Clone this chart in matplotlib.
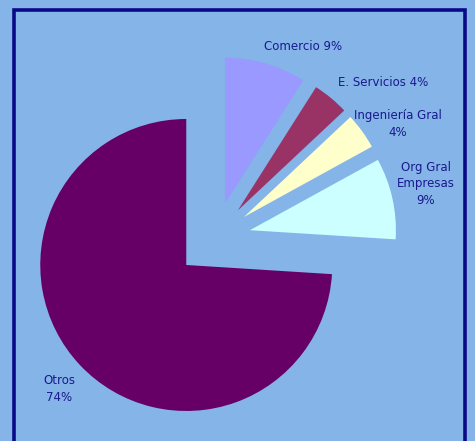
import matplotlib.pyplot as plt
from matplotlib.patches import Rectangle

# Dados do gráfico
categorias = ["Otros", "Org Gral\nEmpresas", "Ingeniería Gral", "E. Servicios", "Comercio"]
porcentagens = [74, 9, 4, 4, 9]
cores = ["#660066", "#CCFFFF", "#FFFFCC", "#993366", "#9999FF"]
explode = [0.27, 0.245, 0.245, 0.245, 0.245]

# Rótulos: texto e posição (pixels da imagem)
rotulos = [
    f"{categorias[0]}\n{porcentagens[0]}%",
    f"{categorias[1]}\n{porcentagens[1]}%",
    f"{categorias[2]}\n{porcentagens[2]}%",
    f"{categorias[3]} {porcentagens[3]}%",
    f"{categorias[4]} {porcentagens[4]}%",
]
pos_rotulos = [(59, 389), (426, 184), (398, 124), (383, 82), (303, 47)]

fundo = "#84B4E8"
azul_texto = "#1A1A8C"
R = 146.0  # raio em pixels -> 1 unidade
W, H = 475, 441

fig = plt.figure(figsize=(W / 100, H / 100), dpi=100)
fig.patch.set_facecolor(fundo)
ax = fig.add_axes([0, 0, 1, 1])
ax.set_facecolor(fundo)

ax.pie(porcentagens, colors=cores, explode=explode, startangle=90,
       counterclock=True, center=(215 / R, (H - 238) / R), radius=1,
       wedgeprops={"linewidth": 0}, frame=True)

for texto, (x, y) in zip(rotulos, pos_rotulos):
    ax.text(x / R, (H - y) / R, texto, ha="center", va="center", fontsize=8.5,
            color=azul_texto, linespacing=1.35)

ax.set_xlim(0, W / R)
ax.set_ylim(0, H / R)
ax.axis("off")

# Moldura azul escura
ax.add_patch(Rectangle((14 / R, -20 / R), 451 / R, (H - 9.5 + 20) / R, fill=False,
                       edgecolor="#0A0A86", linewidth=2.6, clip_on=False))

fig.savefig("out.png", dpi=100, facecolor=fundo)
